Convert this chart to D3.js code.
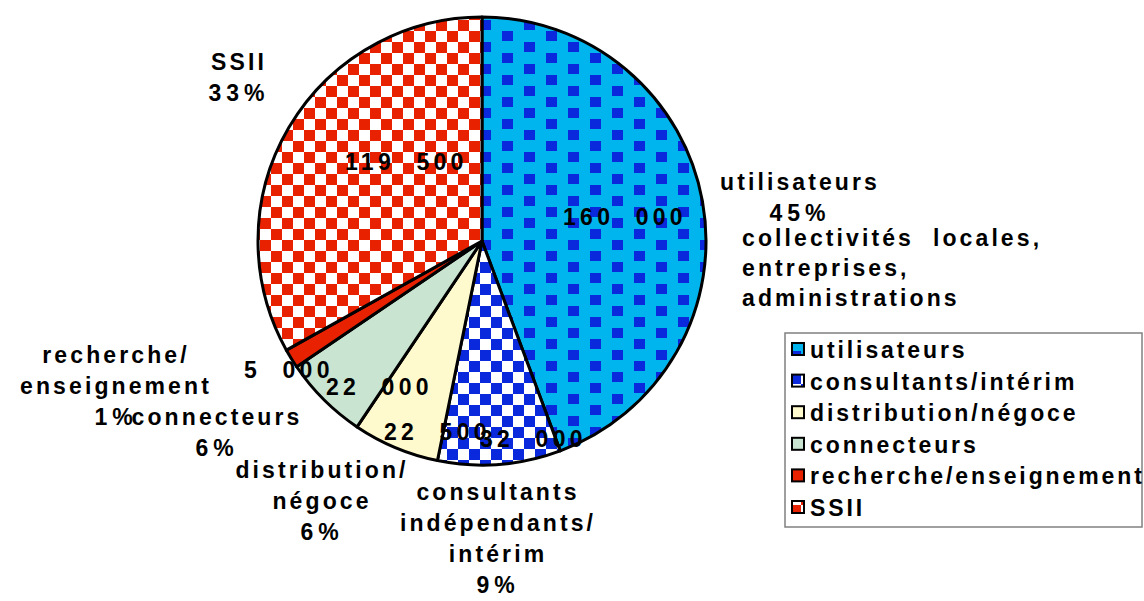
<!DOCTYPE html>
<html>
<head>
<meta charset="utf-8">
<script src="https://cdn.jsdelivr.net/npm/d3@7"></script>
<style>
  body { margin: 0; background: #fff; }
  svg text { font-family: "Liberation Sans", Arial, sans-serif; font-weight: bold; font-size: 23px; letter-spacing: 3.1px; fill: #000; white-space: pre; }
</style>
</head>
<body>
<svg id="chart" width="1144" height="601"></svg>
<script>
// data
const categories = ["utilisateurs", "consultants/intérim", "distribution/négoce", "connecteurs", "recherche/enseignement", "SSII"];
const values = [160000, 32000, 22500, 22000, 5000, 119500];
const percentLabels = ["45%", "9%", "6%", "6%", "1%", "33%"];
const sliceLabels = [["utilisateurs"], ["consultants", "indépendants/", "intérim"], ["distribution/", "négoce"], ["connecteurs"], ["recherche/", "enseignement"], ["SSII"]];
const noteLines = ["collectivités  locales,", "entreprises,", "administrations"];

const svg = d3.select("#chart");
const cx = 482, cy = 241, r = 224;

// fills : plain colours or patterns
const defs = svg.append("defs");
function squares(id, bg, fg, w, h, rects) {
  const p = defs.append("pattern").attr("id", id).attr("patternUnits", "userSpaceOnUse")
    .attr("width", w).attr("height", h).attr("x", cx).attr("y", cy);
  p.append("rect").attr("width", w).attr("height", h).attr("fill", bg);
  rects.forEach(q => p.append("rect").attr("x", q[0]).attr("y", q[1]).attr("width", q[2]).attr("height", q[3]).attr("fill", fg));
}
squares("pUtil", "#00b4ee", "#0a28dc", 44, 22, [[0, 0, 11, 10], [22, 11, 11, 10]]);
squares("pCons", "#ffffff", "#0a28dc", 22, 22, [[0, 0, 11, 11], [11, 11, 11, 11]]);
squares("pSSII", "#ffffff", "#e82200", 22, 22, [[0, 0, 11, 11], [11, 11, 11, 11]]);
const fills = ["url(#pUtil)", "url(#pCons)", "#fffacd", "#c9e4d0", "#e82200", "url(#pSSII)"];

const pie = d3.pie().sort(null).value(d => d)(values);
const arc = d3.arc().innerRadius(0).outerRadius(r);

const g = svg.append("g").attr("transform", `translate(${cx},${cy})`);
g.selectAll("path")
  .data(pie)
  .enter().append("path")
    .attr("d", arc)
    .attr("fill", (d, i) => fills[i])
    .attr("stroke", "#000")
    .attr("stroke-width", 3)
    .attr("stroke-linejoin", "round");

// value labels inside / near the slices (start anchored)
const valuePos = [[563, 225], [480, 447], [384, 440], [326, 395], [244, 378], [345, 170]];
const fmt = v => d3.format(",")(v).replace(/,/g, "\u00a0\u00a0");
values.forEach((v, i) => {
  svg.append("text").attr("x", valuePos[i][0]).attr("y", valuePos[i][1])
    .style("letter-spacing", "4.3px").text(fmt(v));
});

// category labels with the percentage underneath
const labelPos = [[800, 190], [498, 500], [322, 478], [217, 425], [116, 363], [239, 70]];
const lineH = 31;
sliceLabels.forEach((lines, i) => {
  const t = svg.append("text").attr("text-anchor", "middle");
  lines.concat([percentLabels[i]]).forEach((s, k) => {
    const isPct = k == lines.length;
    t.append("tspan").attr("x", labelPos[i][0]).attr("y", labelPos[i][1] + k * lineH + (isPct ? 0 : 0))
      .style("letter-spacing", isPct ? "5px" : null).text(s);
  });
});

noteLines.forEach((s, k) => {
  svg.append("text").attr("x", 742).attr("y", 246 + k * 30).text(s);
});

// legend
const lg = svg.append("g");
lg.append("rect").attr("x", 785).attr("y", 333).attr("width", 357).attr("height", 194)
  .attr("fill", "#fff").attr("stroke", "#808080").attr("stroke-width", 1.5);
const legendY = d3.scalePoint().domain(categories).range([350, 508]);
categories.forEach((c, i) => {
  const y = legendY(c);
  lg.append("rect").attr("x", 792).attr("y", y - 7).attr("width", 12).attr("height", 12)
    .attr("fill", fills[i]).attr("stroke", "#000").attr("stroke-width", 2);
  lg.append("text").attr("x", 810).attr("y", y + 8).style("letter-spacing", "2.9px").text(c);
});
</script>
</body>
</html>
